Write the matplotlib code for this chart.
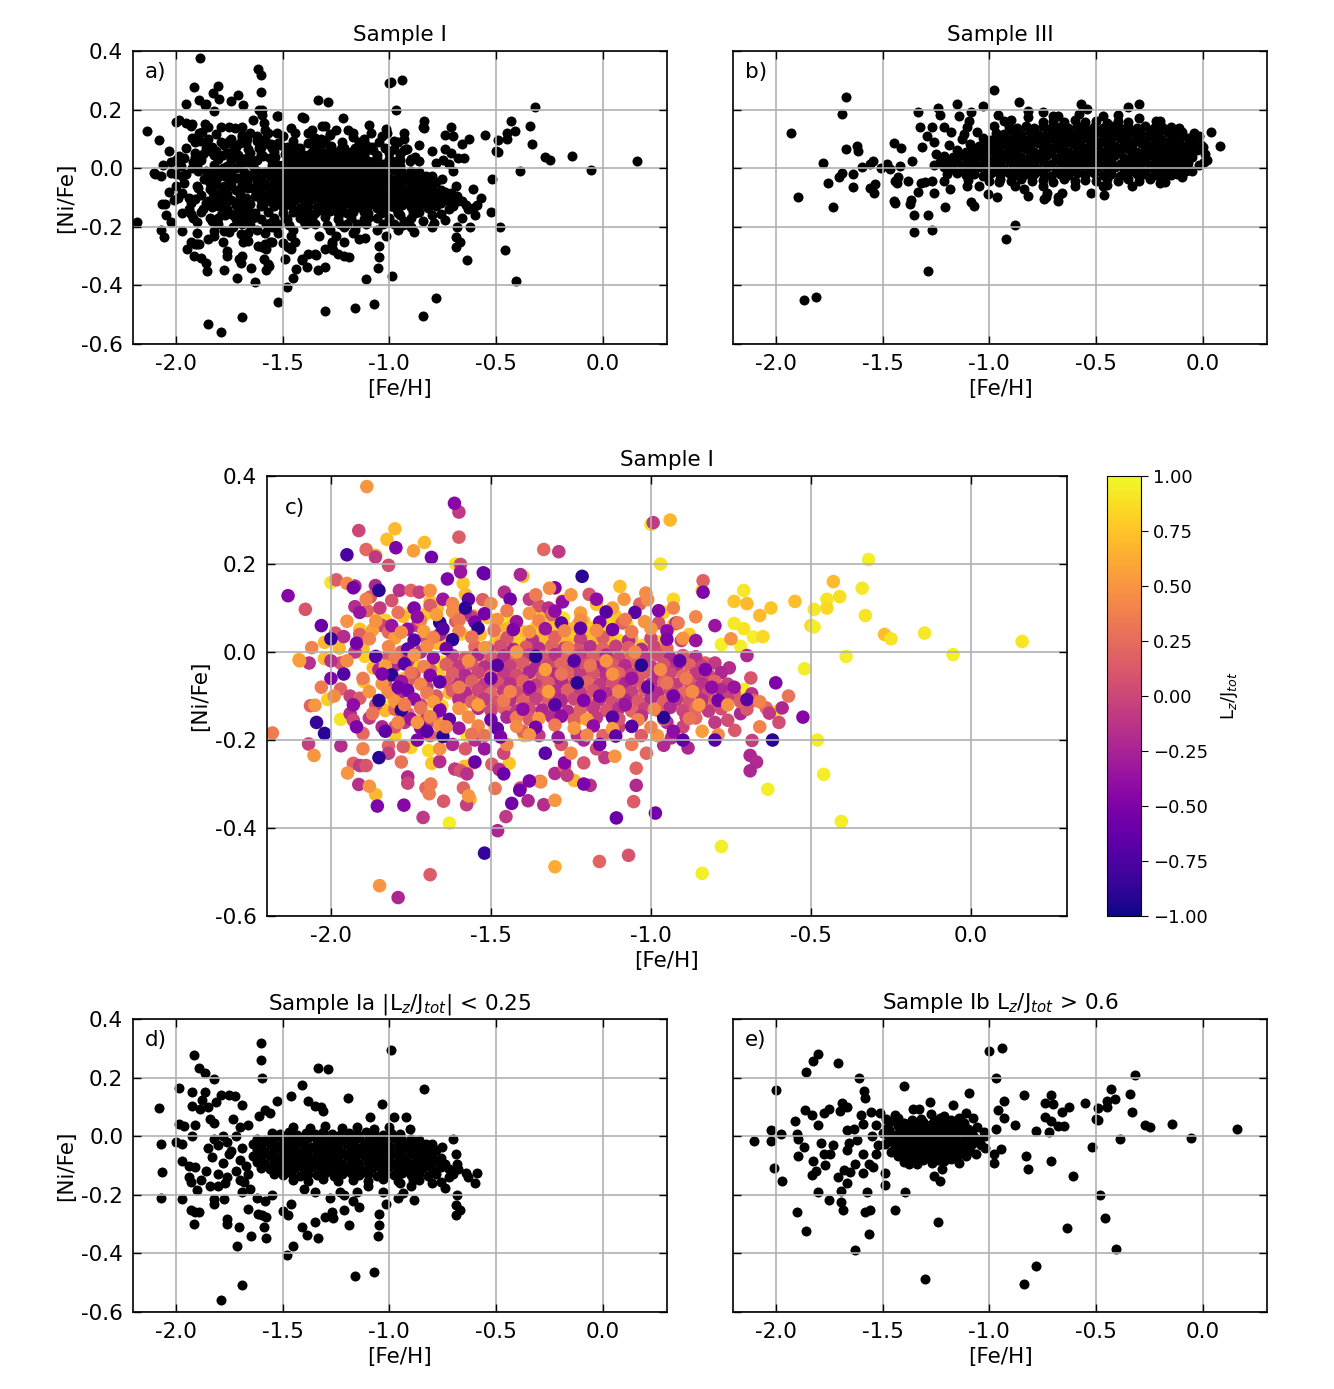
import numpy as np
import matplotlib
matplotlib.use("Agg")
import matplotlib.pyplot as plt
from matplotlib.ticker import FuncFormatter, MultipleLocator

# ---- Sample I, part with Lz/Jtot > 0.6 (panel e): ([Fe/H], [Ni/Fe], Lz/Jtot)
e_out = [
    (-1.00, 0.29, 0.92), (-0.94, 0.30, 0.68), (-0.97, 0.20, 0.90), (-0.32, 0.21, 0.95),
    (-0.84, 0.14, 0.85), (-0.71, 0.14, 0.92), (-0.43, 0.16, 0.70), (-0.34, 0.145, 0.92),
    (-0.41, 0.126, 0.88), (-0.45, 0.12, 0.90), (-0.45, 0.10, 0.85), (-0.93, 0.12, 0.85),
    (-0.74, 0.115, 0.75), (-0.70, 0.11, 0.70), (-0.55, 0.115, 0.72), (-0.625, 0.10, 0.75),
    (-0.49, 0.097, 0.92), (-0.66, 0.083, 0.70), (-0.33, 0.083, 0.90), (-0.96, 0.09, 0.80),
    (-0.93, 0.062, 0.78), (-0.74, 0.065, 0.92), (-0.71, 0.053, 0.90), (-0.50, 0.06, 0.85),
    (-0.49, 0.057, 0.95), (-0.88, 0.04, 0.78), (-0.68, 0.034, 0.95), (-0.65, 0.035, 0.85),
    (-0.97, 0.024, 0.80), (-0.78, 0.017, 0.96), (-0.72, 0.013, 0.95), (-0.27, 0.04, 0.72),
    (-0.25, 0.03, 0.90), (-0.145, 0.043, 0.92), (0.16, 0.024, 0.90), (-0.056, -0.006, 0.96),
    (-0.39, -0.01, 0.95), (-0.52, -0.038, 0.95), (-0.83, -0.067, 0.90), (-0.82, -0.11, 0.75),
    (-0.71, -0.085, 0.95), (-0.61, -0.135, 0.90), (-0.48, -0.20, 0.95), (-0.46, -0.278, 0.95),
    (-0.635, -0.312, 0.95), (-0.405, -0.385, 0.95), (-0.78, -0.442, 0.95), (-0.84, -0.503, 0.95),
    (-1.30, -0.488, 0.62), (-1.24, -0.292, 0.70), (-1.63, -0.389, 0.95), (-1.565, -0.335, 0.70),
    (-1.86, -0.324, 0.70), (-1.90, -0.258, 0.75), (-1.75, -0.217, 0.80), (-1.695, -0.224, 0.85),
    (-1.685, -0.253, 0.75), (-1.583, -0.26, 0.72), (-1.557, -0.253, 0.70), (-1.443, -0.253, 0.75),
    (-1.80, -0.19, 0.80), (-1.696, -0.188, 0.70), (-1.575, -0.19, 0.90), (-1.396, -0.19, 0.70),
    (-1.97, -0.153, 0.90), (-2.01, -0.108, 0.80), (-2.10, -0.017, 0.65), (-2.02, -0.015, 0.70),
    (-2.02, 0.022, 0.68), (-1.974, 0.009, 0.70), (-1.91, 0.052, 0.75), (-1.865, 0.09, 0.90),
    (-1.90, 0.007, 0.70), (-1.894, -0.01, 0.80), (-1.868, -0.036, 0.70), (-1.898, -0.067, 0.75),
    (-1.826, -0.083, 0.70), (-1.81, -0.12, 0.95), (-1.83, -0.133, 0.70), (-1.77, -0.099, 0.80),
    (-1.71, -0.14, 0.70), (-1.68, -0.116, 0.90), (-1.665, -0.16, 0.70), (-1.49, -0.168, 0.75),
    (-1.49, -0.124, 0.70), (-1.377, -0.095, 0.80), (-1.259, -0.135, 0.90), (-1.23, -0.153, 0.70),
    (-1.22, -0.113, 0.75), (-1.278, 0.116, 0.70), (-1.17, 0.108, 0.75), (-1.075, 0.063, 0.90),
    (-1.026, 0.015, 0.85), (-1.019, -0.039, 0.70), (-1.047, -0.014, 0.80), (-1.063, -0.06, 0.70),
    (-0.946, -0.045, 0.75), (-0.977, -0.061, 0.70), (-0.977, -0.09, 0.80), (-1.69, 0.115, 0.75),
    (-1.667, 0.101, 0.70), (-1.75, 0.092, 0.90), (-1.774, 0.081, 0.70), (-1.83, 0.072, 0.80),
    (-1.80, 0.038, 0.70), (-1.70, 0.088, 0.75), (-1.60, 0.072, 0.85), (-1.552, 0.082, 0.70),
    (-1.51, 0.078, 0.75), (-1.44, 0.073, 0.90), (-1.484, 0.058, 0.70), (-1.592, 0.041, 0.80),
    (-1.668, 0.02, 0.70), (-1.634, 0.026, 0.75), (-1.533, 0.04, 0.70), (-1.358, 0.093, 0.80),
    (-1.33, 0.092, 0.70), (-1.318, 0.06, 0.75), (-1.273, 0.077, 0.90), (-1.21, 0.07, 0.70),
    (-1.18, 0.055, 0.80), (-1.137, 0.06, 0.70), (-1.11, 0.081, 0.75), (-1.786, -0.022, 0.70),
    (-1.734, -0.031, 0.80), (-1.774, -0.061, 0.75), (-1.745, -0.061, 0.70), (-1.656, -0.023, 0.90),
    (-1.618, -0.011, 0.70), (-1.665, -0.048, 0.75), (-1.63, -0.093, 0.70), (-1.592, -0.061, 0.80),
    (-1.564, -0.093, 0.70), (-1.543, -0.105, 0.75), (-1.592, -0.127, 0.70), (-1.653, -0.122, 0.85),
    (-1.80, 0.28, 0.70), (-1.825, 0.256, 0.72), (-1.708, 0.249, 0.70), (-1.86, 0.22, 0.75),
    (-1.61, 0.20, 0.90), (-2.00, 0.158, 0.90), (-1.40, 0.172, 0.70), (-1.587, 0.156, 0.75),
    (-1.58, 0.131, 0.70), (-1.097, 0.149, 0.72),
]
e_core = [
    (-1.45, 0.052, 0.65), (-1.40, 0.046, 0.70), (-1.36, 0.055, 0.75), (-1.31, 0.048, 0.80),
    (-1.26, 0.053, 0.68), (-1.21, 0.045, 0.72), (-1.16, 0.050, 0.85), (-1.12, 0.044, 0.62),
    (-1.48, 0.028, 0.78), (-1.43, 0.034, 0.90), (-1.38, 0.026, 0.65), (-1.34, 0.032, 0.70),
    (-1.29, 0.027, 0.75), (-1.25, 0.035, 0.80), (-1.20, 0.029, 0.68), (-1.15, 0.033, 0.72),
    (-1.10, 0.026, 0.85), (-1.06, 0.031, 0.62), (-1.50, 0.012, 0.78), (-1.45, 0.006, 0.90),
    (-1.40, 0.014, 0.65), (-1.36, 0.008, 0.70), (-1.32, 0.013, 0.75), (-1.27, 0.005, 0.80),
    (-1.22, 0.011, 0.68), (-1.18, 0.007, 0.72), (-1.13, 0.014, 0.85), (-1.08, 0.009, 0.62),
    (-1.47, -0.008, 0.78), (-1.42, -0.013, 0.90), (-1.38, -0.006, 0.65), (-1.33, -0.012, 0.70),
    (-1.29, -0.009, 0.75), (-1.24, -0.014, 0.80), (-1.19, -0.007, 0.68), (-1.15, -0.011, 0.72),
    (-1.10, -0.006, 0.85), (-1.05, -0.013, 0.62), (-1.49, -0.028, 0.78), (-1.44, -0.033, 0.90),
    (-1.39, -0.027, 0.65), (-1.35, -0.034, 0.70), (-1.30, -0.029, 0.75), (-1.26, -0.032, 0.80),
    (-1.21, -0.026, 0.68), (-1.17, -0.035, 0.72), (-1.12, -0.030, 0.85), (-1.08, -0.027, 0.62),
    (-1.46, -0.052, 0.78), (-1.41, -0.047, 0.90), (-1.37, -0.055, 0.65), (-1.32, -0.049, 0.70),
    (-1.28, -0.053, 0.75), (-1.23, -0.046, 0.80), (-1.18, -0.054, 0.68), (-1.14, -0.048, 0.72),
    (-1.09, -0.051, 0.85), (-1.43, -0.068, 0.62), (-1.38, -0.074, 0.78), (-1.33, -0.067, 0.90),
    (-1.29, -0.072, 0.65), (-1.25, -0.069, 0.70), (-1.20, -0.075, 0.75), (-1.15, -0.070, 0.80),
    (-1.11, -0.066, 0.68), (-1.40, -0.088, 0.72), (-1.34, -0.094, 0.85), (-1.27, -0.090, 0.62),
    (-1.21, -0.086, 0.78), (-1.14, -0.092, 0.90),
    (-1.43, 0.062, 0.70), (-1.38, 0.040, 0.75), (-1.33, 0.044, 0.68), (-1.28, 0.040, 0.80),
    (-1.23, 0.061, 0.65), (-1.18, 0.040, 0.72), (-1.14, 0.063, 0.85), (-1.47, 0.020, 0.62),
    (-1.42, 0.021, 0.78), (-1.37, 0.018, 0.70), (-1.31, 0.020, 0.75), (-1.26, 0.018, 0.68),
    (-1.21, 0.021, 0.80), (-1.17, 0.020, 0.65), (-1.12, 0.019, 0.72), (-1.44, 0.000, 0.85),
    (-1.39, 0.001, 0.62), (-1.34, -0.002, 0.78), (-1.30, 0.000, 0.70), (-1.25, 0.001, 0.75),
    (-1.20, -0.002, 0.68), (-1.16, 0.000, 0.80), (-1.11, 0.001, 0.65), (-1.07, -0.002, 0.72),
    (-1.45, -0.020, 0.85), (-1.41, -0.021, 0.62), (-1.36, -0.022, 0.78), (-1.31, -0.020, 0.70),
    (-1.27, -0.019, 0.75), (-1.22, -0.021, 0.68), (-1.18, -0.022, 0.80), (-1.13, -0.020, 0.65),
    (-1.44, -0.040, 0.72), (-1.39, -0.041, 0.85), (-1.34, -0.042, 0.62), (-1.30, -0.040, 0.78),
    (-1.25, -0.039, 0.70), (-1.20, -0.042, 0.75), (-1.16, -0.040, 0.68), (-1.11, -0.041, 0.80),
    (-1.40, -0.060, 0.65), (-1.35, -0.061, 0.72), (-1.30, -0.062, 0.85), (-1.26, -0.060, 0.62),
    (-1.22, -0.059, 0.78), (-1.17, -0.062, 0.70), (-1.36, -0.080, 0.75), (-1.31, -0.081, 0.68),
    (-1.24, -0.080, 0.80), (-1.18, -0.079, 0.65), (-1.52, -0.030, 0.72), (-1.53, -0.060, 0.85),
    (-1.55, 0.000, 0.62), (-1.02, 0.000, 0.78), (-1.04, -0.030, 0.70),
]

# ---- Sample I, part with |Lz/Jtot| < 0.25 (panel d)
d_out = [
    (-2.08, 0.097, 0.10), (-2.068, -0.025, -0.15), (-2.064, -0.122, 0.20), (-2.07, -0.209, -0.05),
    (-1.983, 0.164, 0.15), (-1.925, 0.15, -0.20), (-1.913, 0.276, 0.00), (-1.89, 0.233, 0.22),
    (-1.861, 0.216, -0.10), (-1.82, 0.197, 0.05), (-1.861, 0.151, -0.22), (-1.877, 0.125, 0.12),
    (-1.925, 0.103, -0.18), (-1.887, 0.094, 0.18), (-1.847, 0.10, -0.08), (-1.81, 0.117, 0.10),
    (-1.786, 0.14, -0.15), (-1.75, 0.14, 0.20), (-1.724, 0.136, -0.05), (-1.69, 0.106, 0.15),
    (-1.60, 0.318, -0.10), (-1.60, 0.261, 0.15), (-1.595, 0.199, 0.00), (-1.335, 0.233, 0.22),
    (-1.288, 0.228, -0.10), (-1.408, 0.176, -0.22), (-0.993, 0.294, -0.08), (-0.837, 0.162, 0.18),
    (-1.193, 0.131, 0.12), (-1.035, 0.109, 0.20), (-1.458, 0.136, -0.18), (-1.526, 0.119, 0.18),
    (-1.38, 0.12, -0.08), (-1.35, 0.105, 0.10), (-1.32, 0.10, -0.15), (-1.31, 0.085, 0.20),
    (-1.56, 0.08, -0.05), (-1.61, 0.07, 0.15), (-1.58, 0.09, -0.20), (-1.84, 0.06, 0.00),
    (-1.82, 0.045, 0.22), (-1.73, 0.06, -0.10), (-1.70, 0.03, 0.05), (-1.66, 0.04, -0.22),
    (-1.986, 0.043, 0.12), (-1.96, 0.035, -0.18), (-1.91, 0.04, 0.18), (-1.925, 0.0, -0.08),
    (-1.97, -0.025, 0.10), (-2.0, -0.02, -0.15), (-1.97, -0.084, 0.20), (-1.94, -0.10, -0.05),
    (-1.91, -0.105, 0.15), (-1.94, -0.14, -0.20), (-1.93, -0.155, 0.00), (-1.90, -0.185, 0.22),
    (-1.88, -0.15, -0.10), (-1.86, -0.12, 0.05), (-1.84, -0.17, -0.22), (-1.80, -0.17, 0.12),
    (-1.969, -0.213, -0.18), (-1.93, -0.253, 0.18), (-1.91, -0.258, -0.08), (-1.89, -0.258, 0.10),
    (-1.913, -0.301, -0.15), (-1.82, -0.213, 0.20), (-1.82, -0.23, -0.05), (-1.774, -0.215, 0.15),
    (-1.76, -0.284, -0.20), (-1.76, -0.298, 0.00), (-1.703, -0.309, 0.22), (-1.712, -0.376, -0.10),
    (-1.69, -0.506, 0.15), (-1.79, -0.558, -0.22), (-1.648, -0.339, 0.12), (-1.66, -0.249, -0.18),
    (-1.69, -0.19, 0.18), (-1.613, -0.266, -0.08), (-1.595, -0.27, 0.10), (-1.575, -0.277, -0.15),
    (-1.586, -0.309, 0.20), (-1.576, -0.347, -0.05), (-1.497, -0.255, 0.15), (-1.474, -0.267, -0.20),
    (-1.46, -0.23, 0.00), (-1.479, -0.406, -0.22), (-1.453, -0.374, -0.10), (-1.408, -0.309, 0.05),
    (-1.384, -0.338, -0.22), (-1.335, -0.347, -0.18), (-1.347, -0.294, 0.12), (-1.30, -0.276, -0.18),
    (-1.27, -0.26, 0.18), (-1.262, -0.28, -0.08), (-1.21, -0.252, 0.10), (-1.19, -0.303, -0.15),
    (-1.161, -0.476, 0.20), (-1.07, -0.462, 0.10), (-1.054, -0.34, 0.15), (-1.046, -0.303, -0.20),
    (-1.046, -0.264, 0.20), (-1.014, -0.23, 0.22), (-1.144, -0.24, -0.10), (-1.17, -0.22, 0.05),
    (-1.21, -0.20, -0.22), (-0.96, -0.212, -0.20), (-0.936, -0.195, -0.18), (-0.884, -0.218, -0.22),
    (-0.70, -0.008, -0.22), (-0.688, -0.059, 0.10), (-0.685, -0.095, -0.15), (-0.68, -0.11, 0.20),
    (-0.684, -0.201, -0.05), (-0.69, -0.235, -0.22), (-0.67, -0.25, -0.20), (-0.69, -0.27, -0.22),
    (-0.64, -0.127, 0.22), (-0.63, -0.139, -0.10), (-0.60, -0.16, 0.05), (-0.59, -0.127, -0.22),
    (-0.738, -0.178, 0.12), (-0.755, -0.036, -0.18), (-0.83, -0.025, 0.18), (-0.80, -0.025, -0.08),
    (-0.976, 0.066, 0.10), (-0.922, 0.066, -0.15), (-1.09, 0.066, 0.20), (-0.905, 0.026, -0.05),
    (-1.75, -0.06, 0.15), (-1.78, -0.09, -0.20), (-1.72, -0.12, 0.00), (-1.76, -0.14, 0.22),
    (-1.70, -0.15, -0.10), (-1.65, -0.18, 0.05), (-1.62, -0.21, -0.22), (-1.58, -0.22, 0.12),
    (-1.55, -0.20, -0.18), (-1.40, -0.18, 0.18), (-1.35, -0.19, -0.08), (-1.28, -0.21, 0.10),
    (-1.23, -0.19, -0.15), (-1.15, -0.19, 0.20), (-1.10, -0.17, -0.05), (-1.03, -0.19, 0.15),
    (-0.95, -0.16, -0.20), (-0.90, -0.17, 0.00), (-0.86, -0.15, 0.22), (-0.80, -0.16, -0.10),
    (-0.76, -0.155, 0.05), (-0.72, -0.14, -0.22), (-0.70, -0.13, 0.12),
    (-1.80, -0.03, -0.18), (-1.78, 0.0, 0.18), (-1.76, -0.02, -0.08), (-1.74, -0.05, 0.10),
    (-1.72, 0.0, -0.15), (-1.69, -0.04, 0.20), (-1.70, -0.08, -0.05), (-1.67, -0.10, 0.15),
    (-1.66, -0.13, -0.20), (-1.68, -0.155, 0.00), (-1.80, -0.13, 0.22), (-1.77, -0.16, -0.10),
    (-1.83, -0.07, 0.05), (-1.85, -0.04, -0.22), (-1.82, -0.01, 0.12),
]
d_core = [
    (-1.45, 0.032, 0.10), (-1.37, 0.027, -0.15), (-1.30, 0.034, 0.20), (-1.22, 0.029, -0.05),
    (-1.15, 0.033, 0.15), (-1.07, 0.026, -0.20), (-1.00, 0.031, 0.00),
    (-1.55, 0.012, 0.22), (-1.51, 0.007, -0.10), (-1.47, 0.013, 0.05), (-1.43, 0.006, -0.22),
    (-1.39, 0.011, 0.12), (-1.35, 0.008, -0.18), (-1.31, 0.014, 0.18), (-1.27, 0.009, -0.08),
    (-1.23, 0.005, 0.10), (-1.19, 0.012, -0.15), (-1.15, 0.007, 0.20), (-1.11, 0.013, -0.05),
    (-1.07, 0.010, 0.15), (-1.03, 0.006, -0.20), (-0.99, 0.012, 0.00), (-0.95, 0.008, 0.22),
    (-1.62, -0.008, -0.10), (-1.58, -0.013, 0.05), (-1.54, -0.006, -0.22), (-1.50, -0.012, 0.12),
    (-1.46, -0.009, -0.18), (-1.42, -0.014, 0.18), (-1.38, -0.007, -0.08), (-1.34, -0.011, 0.10),
    (-1.30, -0.006, -0.15), (-1.26, -0.013, 0.20), (-1.22, -0.008, -0.05), (-1.18, -0.012, 0.15),
    (-1.14, -0.007, -0.20), (-1.10, -0.014, 0.00), (-1.06, -0.009, 0.22), (-1.02, -0.012, -0.10),
    (-0.98, -0.006, 0.05), (-0.94, -0.013, -0.22), (-0.90, -0.008, 0.12), (-0.86, -0.011, -0.18),
    (-1.64, -0.028, 0.18), (-1.60, -0.033, -0.08), (-1.56, -0.027, 0.10), (-1.52, -0.034, -0.15),
    (-1.48, -0.029, 0.20), (-1.44, -0.032, -0.05), (-1.40, -0.026, 0.15), (-1.36, -0.035, -0.20),
    (-1.32, -0.030, 0.00), (-1.28, -0.027, 0.22), (-1.24, -0.033, -0.10), (-1.20, -0.028, 0.05),
    (-1.16, -0.034, -0.22), (-1.12, -0.029, 0.12), (-1.08, -0.031, -0.18), (-1.04, -0.026, 0.18),
    (-1.00, -0.033, -0.08), (-0.96, -0.028, 0.10), (-0.92, -0.034, -0.15), (-0.88, -0.029, 0.20),
    (-0.84, -0.032, -0.05),
    (-1.62, -0.048, 0.15), (-1.58, -0.053, -0.20), (-1.54, -0.047, 0.00), (-1.50, -0.054, 0.22),
    (-1.46, -0.049, -0.10), (-1.42, -0.052, 0.05), (-1.38, -0.046, -0.22), (-1.34, -0.055, 0.12),
    (-1.30, -0.050, -0.18), (-1.26, -0.047, 0.18), (-1.22, -0.053, -0.08), (-1.18, -0.048, 0.10),
    (-1.14, -0.054, -0.15), (-1.10, -0.049, 0.20), (-1.06, -0.051, -0.05), (-1.02, -0.046, 0.15),
    (-0.98, -0.053, -0.20), (-0.94, -0.048, 0.00), (-0.90, -0.054, 0.22), (-0.86, -0.049, -0.10),
    (-0.82, -0.052, 0.05), (-0.78, -0.047, -0.22),
    (-1.64, -0.068, 0.12), (-1.60, -0.073, -0.18), (-1.56, -0.067, 0.18), (-1.52, -0.074, -0.08),
    (-1.48, -0.069, 0.10), (-1.44, -0.072, -0.15), (-1.40, -0.066, 0.20), (-1.36, -0.075, -0.05),
    (-1.32, -0.070, 0.15), (-1.28, -0.067, -0.20), (-1.24, -0.073, 0.00), (-1.20, -0.068, 0.22),
    (-1.16, -0.074, -0.10), (-1.12, -0.069, 0.05), (-1.08, -0.071, -0.22), (-1.04, -0.066, 0.12),
    (-1.00, -0.073, -0.18), (-0.96, -0.068, 0.18), (-0.92, -0.074, -0.08), (-0.88, -0.069, 0.10),
    (-0.84, -0.072, -0.15), (-0.80, -0.067, 0.20), (-0.76, -0.073, -0.05),
    (-1.62, -0.088, 0.15), (-1.58, -0.093, -0.20), (-1.54, -0.087, 0.00), (-1.50, -0.094, 0.22),
    (-1.46, -0.089, -0.10), (-1.42, -0.092, 0.05), (-1.38, -0.086, -0.22), (-1.34, -0.095, 0.12),
    (-1.30, -0.090, -0.18), (-1.26, -0.087, 0.18), (-1.22, -0.093, -0.08), (-1.18, -0.088, 0.10),
    (-1.14, -0.094, -0.15), (-1.10, -0.089, 0.20), (-1.06, -0.091, -0.05), (-1.02, -0.086, 0.15),
    (-0.98, -0.093, -0.20), (-0.94, -0.088, 0.00), (-0.90, -0.094, 0.22), (-0.86, -0.089, -0.10),
    (-0.82, -0.092, 0.05), (-0.78, -0.086, -0.22), (-0.74, -0.093, 0.12),
    (-1.60, -0.108, -0.18), (-1.56, -0.113, 0.18), (-1.52, -0.107, -0.08), (-1.48, -0.114, 0.10),
    (-1.44, -0.109, -0.15), (-1.40, -0.112, 0.20), (-1.36, -0.106, -0.05), (-1.32, -0.115, 0.15),
    (-1.28, -0.110, -0.20), (-1.24, -0.107, 0.00), (-1.20, -0.113, 0.22), (-1.16, -0.108, -0.10),
    (-1.12, -0.114, 0.05), (-1.08, -0.109, -0.22), (-1.04, -0.111, 0.12), (-1.00, -0.106, -0.18),
    (-0.96, -0.113, 0.18), (-0.92, -0.108, -0.08), (-0.88, -0.114, 0.10), (-0.84, -0.109, -0.15),
    (-0.80, -0.112, 0.20), (-0.76, -0.106, -0.05), (-0.72, -0.113, 0.15),
    (-1.54, -0.128, -0.20), (-1.50, -0.133, 0.00), (-1.46, -0.127, 0.22), (-1.42, -0.134, -0.10),
    (-1.38, -0.129, 0.05), (-1.34, -0.132, -0.22), (-1.30, -0.126, 0.12), (-1.26, -0.135, -0.18),
    (-1.22, -0.130, 0.18), (-1.18, -0.127, -0.08), (-1.14, -0.133, 0.10), (-1.10, -0.128, -0.15),
    (-1.06, -0.134, 0.20), (-1.02, -0.129, -0.05), (-0.98, -0.132, 0.15), (-0.94, -0.126, -0.20),
    (-0.90, -0.133, 0.00), (-0.86, -0.128, 0.22), (-0.82, -0.134, -0.10), (-0.78, -0.129, 0.05),
    (-1.45, -0.148, -0.22), (-1.38, -0.153, 0.12), (-1.31, -0.147, -0.18), (-1.24, -0.154, 0.18),
    (-1.17, -0.149, -0.08), (-1.10, -0.152, 0.10), (-1.03, -0.146, -0.15), (-0.96, -0.153, 0.20),
    (-0.89, -0.148, -0.05),
]

# ---- Sample I, the remaining stars (0.25 < Lz/Jtot < 0.6 or Lz/Jtot < -0.25)
o_out = [
    (-1.888, 0.376, 0.50), (-1.614, 0.338, -0.45), (-2.183, -0.184, 0.35), (-2.134, 0.128, -0.45),
    (-2.098, -0.02, 0.55), (-2.053, -0.235, 0.50), (-2.045, -0.16, -0.85), (-2.02, -0.185, -0.90),
    (-2.05, -0.121, 0.50), (-1.848, -0.531, 0.50), (-1.52, -0.457, -0.85),
    (-0.986, -0.366, -0.55), (-1.108, -0.377, -0.60), (-1.855, -0.35, -0.50), (-1.772, -0.348, -0.45),
    (-1.948, -0.275, 0.50), (-1.88, -0.305, 0.50), (-1.95, 0.221, -0.75), (-1.797, 0.237, -0.50),
    (-1.686, 0.215, -0.55), (-1.215, 0.172, -0.90), (-1.52, 0.178, -0.60), (-1.636, 0.166, -0.50),
    (-1.595, 0.182, -0.35), (-1.742, 0.23, 0.55), (-1.95, 0.156, 0.45), (-1.93, 0.146, -0.55),
    (-1.30, 0.146, -0.50), (-1.01, 0.119, 0.45), (-1.084, 0.12, 0.50), (-0.525, -0.148, -0.45),
    (-0.79, -0.188, 0.45), (-1.113, -0.237, 0.50), (-1.21, -0.30, -0.50), (-1.27, -0.252, -0.45),
    (-1.30, -0.337, 0.50), (-1.344, -0.295, 0.45), (-1.38, -0.293, -0.50), (-1.41, -0.314, -0.55),
    (-1.435, -0.344, -0.55), (-1.46, -0.277, -0.60), (-1.487, -0.31, 0.30), (-1.55, -0.25, -0.60),
    (-1.57, -0.327, 0.50), (-1.688, -0.30, 0.35), (-1.693, -0.322, 0.35), (-1.524, 0.18, -0.60),
    (-1.317, 0.145, 0.45), (-1.276, 0.114, -0.40), (-1.016, 0.134, 0.45), (-0.837, 0.136, -0.50),
    (-0.93, 0.10, 0.40), (-0.976, 0.094, -0.45), (-0.915, 0.066, 0.35), (-2.03, 0.06, -0.60),
    (-2.06, 0.01, 0.40), (-2.00, -0.06, -0.50), (-1.99, -0.10, 0.45), (-2.03, -0.08, 0.35),
    (-2.00, 0.03, -0.85), (-1.96, -0.05, -0.70),
    (-1.89, 0.12, 0.40), (-1.85, 0.14, -0.90), (-1.79, 0.09, 0.30), (-1.74, 0.10, -0.50),
    (-1.69, 0.14, 0.48), (-1.65, 0.12, -0.35), (-1.62, 0.11, 0.42), (-1.57, 0.12, -0.65),
    (-1.50, 0.11, 0.45), (-1.44, 0.12, -0.55), (-1.36, 0.13, 0.35), (-1.25, 0.13, 0.50),
    (-1.17, 0.12, -0.40), (-1.12, 0.10, 0.55), (-1.05, 0.09, -0.70), (-1.90, -0.22, 0.40),
    (-1.85, -0.24, -0.90), (-1.78, -0.25, 0.30), (-1.73, -0.20, -0.50), (-1.66, -0.22, 0.48),
    (-1.52, -0.22, -0.35), (-1.45, -0.21, 0.42), (-1.33, -0.23, -0.65), (-1.25, -0.23, 0.45),
    (-1.16, -0.21, -0.55), (-1.06, -0.21, 0.35), (-0.98, -0.19, 0.50), (-0.93, -0.18, -0.40),
    (-0.84, -0.18, 0.55), (-0.80, -0.20, -0.70), (-0.66, -0.17, 0.40), (-0.62, -0.20, -0.90),
    (-0.57, -0.10, 0.30), (-0.61, -0.07, -0.50), (-0.75, 0.03, 0.48), (-0.80, 0.06, -0.35),
    (-0.86, 0.08, 0.42), (-0.90, -0.20, -0.65),
]
o_core = [
    (-1.62, 0.092, 0.45), (-1.52, 0.087, -0.55), (-1.45, 0.094, 0.35), (-1.38, 0.088, 0.50),
    (-1.30, 0.093, -0.40), (-1.22, 0.089, 0.55), (-1.14, 0.091, -0.70),
    (-1.72, 0.072, 0.40), (-1.66, 0.067, -0.90), (-1.60, 0.073, 0.30), (-1.55, 0.068, -0.50),
    (-1.48, 0.074, 0.48), (-1.42, 0.069, -0.35), (-1.35, 0.071, 0.42), (-1.28, 0.066, -0.65),
    (-1.22, 0.073, 0.45), (-1.16, 0.068, -0.55), (-1.08, 0.074, 0.35), (-1.02, 0.069, 0.50),
    (-1.76, 0.052, -0.40), (-1.71, 0.047, 0.55), (-1.65, 0.053, -0.70), (-1.60, 0.048, 0.40),
    (-1.54, 0.054, -0.90), (-1.49, 0.049, 0.30), (-1.43, 0.051, -0.50), (-1.38, 0.046, 0.48),
    (-1.33, 0.053, -0.35), (-1.27, 0.048, 0.42), (-1.22, 0.054, -0.65), (-1.17, 0.049, 0.45),
    (-1.12, 0.051, -0.55), (-1.06, 0.046, 0.35), (-1.00, 0.053, 0.50), (-0.95, 0.048, -0.40),
    (-1.80, 0.032, 0.55), (-1.74, 0.027, -0.70), (-1.68, 0.033, 0.40), (-1.62, 0.028, -0.90),
    (-1.56, 0.034, 0.30), (-0.95, 0.029, -0.50), (-0.90, 0.031, 0.48), (-0.86, 0.026, -0.35),
    (-1.82, 0.012, 0.42), (-1.76, 0.007, -0.65), (-1.70, 0.013, 0.45), (-1.64, 0.008, -0.55),
    (-1.80, -0.012, 0.35), (-1.74, -0.007, 0.50), (-1.68, -0.013, -0.40), (-1.83, -0.032, 0.55),
    (-1.77, -0.027, -0.70), (-1.71, -0.033, 0.40), (-1.81, -0.052, -0.90), (-1.75, -0.047, 0.30),
    (-1.69, -0.053, -0.50), (-1.84, -0.072, 0.48), (-1.78, -0.067, -0.35), (-1.72, -0.073, 0.42),
    (-1.66, -0.068, -0.65), (-1.82, -0.092, 0.45), (-1.76, -0.087, -0.55), (-1.70, -0.093, 0.35),
    (-1.80, -0.112, 0.50), (-1.74, -0.107, -0.40), (-1.68, -0.113, 0.55), (-0.70, -0.108, -0.70),
    (-0.66, -0.113, 0.40), (-1.78, -0.132, -0.90), (-1.72, -0.127, 0.30), (-1.66, -0.133, -0.50),
    (-1.60, -0.128, 0.48),
    (-1.75, -0.152, -0.35), (-1.69, -0.147, 0.42), (-1.63, -0.153, -0.65), (-1.57, -0.148, 0.45),
    (-1.50, -0.154, -0.55), (-1.42, -0.149, 0.35), (-1.35, -0.151, 0.50), (-1.28, -0.146, -0.40),
    (-1.20, -0.153, 0.55), (-1.12, -0.148, -0.70), (-1.04, -0.154, 0.40), (-0.96, -0.149, -0.90),
    (-0.88, -0.151, 0.30),
    (-1.72, -0.172, -0.50), (-1.66, -0.167, 0.48), (-1.60, -0.173, -0.35), (-1.54, -0.168, 0.42),
    (-1.48, -0.174, -0.65), (-1.42, -0.169, 0.45), (-1.36, -0.171, -0.55), (-1.30, -0.166, 0.35),
    (-1.24, -0.173, 0.50), (-1.18, -0.168, -0.40), (-1.12, -0.174, 0.55), (-1.06, -0.169, -0.70),
    (-1.00, -0.171, 0.40),
    (-1.65, -0.192, -0.90), (-1.56, -0.187, 0.30), (-1.47, -0.193, -0.50), (-1.38, -0.188, 0.48),
    (-1.29, -0.194, -0.35), (-1.20, -0.189, 0.42), (-1.11, -0.191, -0.65),
    (-1.57, -0.02, 0.45), (-1.50, -0.06, -0.55), (-1.46, -0.11, 0.35), (-1.42, 0.00, 0.50),
    (-1.38, -0.08, -0.40), (-1.33, -0.04, 0.55), (-1.30, -0.12, -0.70), (-1.26, 0.01, 0.40),
    (-1.23, -0.07, -0.90), (-1.19, -0.03, 0.30), (-1.16, -0.10, -0.50), (-1.12, -0.05, 0.48),
    (-1.08, -0.12, -0.35), (-1.05, 0.00, 0.42), (-1.01, -0.08, -0.65), (-0.97, -0.04, 0.45),
    (-0.93, -0.10, -0.55), (-0.89, -0.06, 0.35), (-0.85, -0.12, 0.50), (-0.81, -0.08, -0.40),
    (-1.54, -0.12, 0.55), (-1.48, -0.03, -0.70), (-1.44, -0.09, 0.40), (-1.36, -0.01, -0.90),
    (-1.28, -0.05, 0.30), (-1.21, -0.11, -0.50), (-1.14, -0.02, 0.48), (-1.06, -0.06, -0.35),
    (-0.99, -0.13, 0.42), (-0.91, -0.02, -0.65), (-0.87, -0.09, 0.45), (-0.79, -0.11, -0.55),
    (-1.60, -0.08, 0.35), (-1.52, 0.01, 0.50), (-1.40, -0.13, -0.40), (-1.32, -0.09, 0.55),
    (-1.24, -0.02, -0.70), (-1.10, -0.09, 0.40), (-1.03, -0.03, -0.90), (-0.95, -0.07, 0.30),
    (-0.83, -0.04, -0.50), (-0.76, -0.12, 0.48), (-0.74, -0.08, -0.35),
    (-1.95, -0.02, 0.45), (-1.92, 0.02, -0.55), (-1.90, -0.06, 0.35), (-1.88, -0.09, 0.50),
    (-1.93, -0.12, -0.40), (-1.87, 0.05, 0.55), (-1.86, -0.01, -0.70), (-1.88, 0.03, 0.40),
    (-1.85, -0.11, -0.90), (-1.87, -0.14, 0.30), (-1.84, -0.05, -0.50), (-1.86, 0.07, 0.48),
    (-1.81, 0.06, -0.35), (-1.79, -0.16, 0.42), (-1.83, -0.18, -0.65), (-1.78, 0.045, 0.45),
    (-1.79, -0.08, -0.55), (-1.77, -0.12, 0.35), (-1.73, -0.16, 0.50), (-1.73, 0.08, -0.40),
    (-1.67, 0.085, 0.55), (-1.70, -0.18, -0.70), (-1.64, -0.17, 0.40), (-1.58, 0.10, -0.90),
    (-1.52, -0.19, 0.30), (-1.92, -0.17, -0.50), (-1.95, 0.07, 0.48), (-1.91, 0.09, -0.35),
]

# ---- Sample III: ([Fe/H], [Ni/Fe])
iii_out = [
    (-1.93, 0.12), (-1.673, 0.245), (-1.688, 0.185), (-1.673, 0.066), (-1.62, 0.076), (-1.616, 0.058),
    (-1.777, 0.018), (-1.894, -0.099), (-1.87, -0.449), (-1.81, -0.44), (-1.73, -0.133), (-1.756, -0.051),
    (-1.705, -0.03), (-1.692, -0.016), (-1.64, -0.019), (-1.64, -0.063), (-1.597, 0.003), (-1.56, 0.013),
    (-1.546, 0.024), (-1.56, -0.067), (-1.537, -0.053), (-1.54, -0.085), (-1.478, 0.013), (-1.465, -0.002),
    (-1.508, 0.0), (-1.418, 0.009), (-1.446, 0.085), (-1.414, 0.069), (-1.44, -0.042), (-1.43, -0.03),
    (-1.433, -0.051), (-1.38, -0.045), (-1.446, -0.11), (-1.44, -0.118), (-1.365, -0.107), (-1.37, -0.122),
    (-1.355, -0.159), (-1.352, -0.218), (-1.285, -0.161), (-1.289, -0.349), (-1.267, -0.212), (-1.333, -0.082),
    (-1.32, -0.05), (-1.30, -0.048), (-1.267, -0.042), (-1.257, -0.085), (-1.206, -0.133), (-1.185, -0.07),
    (-1.21, -0.042), (-1.363, 0.026), (-1.336, 0.193), (-1.323, 0.142), (-1.29, 0.111), (-1.314, 0.072),
    (-1.257, 0.089), (-1.267, 0.142), (-1.242, 0.205), (-1.23, 0.182), (-1.21, 0.14), (-1.18, 0.123),
    (-1.15, 0.219), (-1.144, 0.18), (-1.12, 0.117), (-1.087, 0.191), (-1.097, 0.162), (-1.106, 0.14),
    (-1.03, 0.214), (-0.977, 0.267), (-0.96, 0.182), (-0.86, 0.227), (-0.90, 0.165), (-0.82, 0.197),
    (-0.747, 0.191), (-0.70, 0.18), (-0.573, 0.219), (-0.543, 0.202), (-0.35, 0.21), (-0.30, 0.219),
    (-0.20, 0.16), (-0.113, 0.137), (-0.04, 0.12), (-0.02, 0.109), (0.038, 0.123), (0.081, 0.077),
    (0.0, 0.072), (0.004, 0.023), (-0.18, -0.048), (-0.208, -0.027), (-0.12, -0.02), (-0.16, -0.02),
    (-0.08, -0.01), (-0.463, -0.091), (-0.524, -0.084), (-0.469, -0.059), (-0.68, -0.099), (-0.68, -0.11),
    (-0.662, -0.085), (-0.737, -0.099), (-0.745, -0.105), (-0.73, -0.084), (-0.819, -0.093), (-0.84, -0.07),
    (-0.879, -0.195), (-0.92, -0.241), (-0.964, -0.099), (-1.008, -0.088), (-1.087, -0.116), (-1.07, -0.13),
    (-1.106, -0.059), (-1.05, -0.059), (-0.955, -0.048),
    (-0.82, 0.175), (-0.68, 0.18), (-0.58, 0.185), (-0.47, 0.178), (-0.40, 0.182), (-0.30, 0.17),
    (-0.22, 0.16), (-0.15, 0.14), (-0.10, 0.125), (-0.04, 0.10), (-0.01, 0.08), (0.01, 0.05),
    (0.02, 0.03), (-0.02, 0.01), (-0.05, -0.01), (-0.10, -0.03), (-0.20, -0.05), (-0.33, -0.06),
    (-0.45, -0.058), (-0.60, -0.06), (-0.75, -0.062), (-0.88, -0.06), (-1.00, -0.045), (-1.10, -0.04),
    (-1.20, -0.02), (-1.26, 0.01), (-1.25, 0.05), (-1.19, 0.08), (-1.13, 0.10), (-1.06, 0.125),
    (-0.98, 0.145), (-0.93, 0.16),
]
iii_core = [
    (-0.95, -0.038), (-0.90, -0.045), (-0.85, -0.036), (-0.80, -0.043), (-0.75, -0.040), (-0.70, -0.046),
    (-0.65, -0.037), (-0.60, -0.044), (-0.55, -0.039), (-0.50, -0.045), (-0.45, -0.036), (-0.40, -0.042),
    (-0.35, -0.038), (-0.30, -0.044), (-0.25, -0.037),
    (-1.15, -0.016), (-1.11, -0.023), (-1.07, -0.018), (-1.03, -0.025), (-0.99, -0.017), (-0.95, -0.022),
    (-0.91, -0.015), (-0.87, -0.024), (-0.83, -0.019), (-0.79, -0.021), (-0.75, -0.016), (-0.71, -0.025),
    (-0.67, -0.018), (-0.63, -0.022), (-0.59, -0.015), (-0.55, -0.024), (-0.51, -0.017), (-0.47, -0.023),
    (-0.43, -0.019), (-0.39, -0.025), (-0.35, -0.016), (-0.31, -0.021), (-0.27, -0.018), (-0.23, -0.024),
    (-0.19, -0.017), (-0.15, -0.022),
    (-1.21, 0.003), (-1.17, -0.004), (-1.13, 0.005), (-1.09, -0.002), (-1.05, 0.004), (-1.01, -0.005),
    (-0.97, 0.002), (-0.93, -0.003), (-0.89, 0.006), (-0.85, -0.004), (-0.81, 0.003), (-0.77, -0.002),
    (-0.73, 0.005), (-0.69, -0.005), (-0.65, 0.002), (-0.61, -0.003), (-0.57, 0.004), (-0.53, -0.004),
    (-0.49, 0.006), (-0.45, -0.002), (-0.41, 0.003), (-0.37, -0.005), (-0.33, 0.004), (-0.29, -0.003),
    (-0.25, 0.005), (-0.21, -0.002), (-0.17, 0.003), (-0.13, -0.004), (-0.09, 0.002),
    (-1.23, 0.022), (-1.19, 0.017), (-1.15, 0.024), (-1.11, 0.018), (-1.07, 0.023), (-1.03, 0.016),
    (-0.99, 0.021), (-0.95, 0.019), (-0.91, 0.025), (-0.87, 0.017), (-0.83, 0.022), (-0.79, 0.018),
    (-0.75, 0.024), (-0.71, 0.016), (-0.67, 0.021), (-0.63, 0.019), (-0.59, 0.023), (-0.55, 0.017),
    (-0.51, 0.022), (-0.47, 0.018), (-0.43, 0.025), (-0.39, 0.016), (-0.35, 0.021), (-0.31, 0.019),
    (-0.27, 0.024), (-0.23, 0.017), (-0.19, 0.022), (-0.15, 0.018), (-0.11, 0.023), (-0.07, 0.019),
    (-1.21, 0.042), (-1.17, 0.037), (-1.13, 0.044), (-1.09, 0.038), (-1.05, 0.043), (-1.01, 0.036),
    (-0.97, 0.041), (-0.93, 0.039), (-0.89, 0.045), (-0.85, 0.037), (-0.81, 0.042), (-0.77, 0.038),
    (-0.73, 0.044), (-0.69, 0.036), (-0.65, 0.041), (-0.61, 0.039), (-0.57, 0.043), (-0.53, 0.037),
    (-0.49, 0.042), (-0.45, 0.038), (-0.41, 0.045), (-0.37, 0.036), (-0.33, 0.041), (-0.29, 0.039),
    (-0.25, 0.044), (-0.21, 0.037), (-0.17, 0.042), (-0.13, 0.038), (-0.09, 0.043), (-0.05, 0.039),
    (-1.15, 0.062), (-1.11, 0.057), (-1.07, 0.064), (-1.03, 0.058), (-0.99, 0.063), (-0.95, 0.056),
    (-0.91, 0.061), (-0.87, 0.059), (-0.83, 0.065), (-0.79, 0.057), (-0.75, 0.062), (-0.71, 0.058),
    (-0.67, 0.064), (-0.63, 0.056), (-0.59, 0.061), (-0.55, 0.059), (-0.51, 0.063), (-0.47, 0.057),
    (-0.43, 0.062), (-0.39, 0.058), (-0.35, 0.065), (-0.31, 0.056), (-0.27, 0.061), (-0.23, 0.059),
    (-0.19, 0.064), (-0.15, 0.057), (-0.11, 0.062), (-0.07, 0.058), (-0.03, 0.063),
    (-1.09, 0.082), (-1.05, 0.077), (-1.01, 0.084), (-0.97, 0.078), (-0.93, 0.083), (-0.89, 0.076),
    (-0.85, 0.081), (-0.81, 0.079), (-0.77, 0.085), (-0.73, 0.077), (-0.69, 0.082), (-0.65, 0.078),
    (-0.61, 0.084), (-0.57, 0.076), (-0.53, 0.081), (-0.49, 0.079), (-0.45, 0.083), (-0.41, 0.077),
    (-0.37, 0.082), (-0.33, 0.078), (-0.29, 0.085), (-0.25, 0.076), (-0.21, 0.081), (-0.17, 0.079),
    (-0.13, 0.084), (-0.09, 0.077), (-0.05, 0.082),
    (-1.03, 0.102), (-0.99, 0.097), (-0.95, 0.104), (-0.91, 0.098), (-0.87, 0.103), (-0.83, 0.096),
    (-0.79, 0.101), (-0.75, 0.099), (-0.71, 0.105), (-0.67, 0.097), (-0.63, 0.102), (-0.59, 0.098),
    (-0.55, 0.104), (-0.51, 0.096), (-0.47, 0.101), (-0.43, 0.099), (-0.39, 0.103), (-0.35, 0.097),
    (-0.31, 0.102), (-0.27, 0.098), (-0.23, 0.105), (-0.19, 0.096), (-0.15, 0.101), (-0.11, 0.099),
    (-0.07, 0.103),
    (-0.97, 0.122), (-0.93, 0.117), (-0.89, 0.124), (-0.85, 0.118), (-0.81, 0.123), (-0.77, 0.116),
    (-0.73, 0.121), (-0.69, 0.119), (-0.65, 0.125), (-0.61, 0.117), (-0.57, 0.122), (-0.53, 0.118),
    (-0.49, 0.124), (-0.45, 0.116), (-0.41, 0.121), (-0.37, 0.119), (-0.33, 0.123), (-0.29, 0.117),
    (-0.25, 0.122), (-0.21, 0.118), (-0.17, 0.125), (-0.13, 0.116),
    (-0.91, 0.142), (-0.87, 0.137), (-0.83, 0.144), (-0.79, 0.138), (-0.75, 0.143), (-0.71, 0.136),
    (-0.67, 0.141), (-0.63, 0.139), (-0.59, 0.145), (-0.55, 0.137), (-0.51, 0.142), (-0.47, 0.138),
    (-0.43, 0.144), (-0.39, 0.136), (-0.35, 0.141), (-0.31, 0.139), (-0.27, 0.143), (-0.23, 0.137),
    (-0.19, 0.142),
    (-0.75, 0.158), (-0.70, 0.163), (-0.65, 0.157), (-0.60, 0.165), (-0.55, 0.159), (-0.50, 0.162),
    (-0.45, 0.156), (-0.40, 0.161), (-0.35, 0.158),
]

e_arr = np.array(e_out + e_core)
d_arr = np.array(d_out + d_core)
o_arr = np.array(o_out + o_core)
s1 = np.vstack([e_arr, d_arr, o_arr])        # full Sample I
s3 = np.array(iii_out + iii_core)            # Sample III

FS = 15.5
fig = plt.figure(figsize=(13.34, 13.89), dpi=100)

ax_a = fig.add_axes([0.0997, 0.7523, 0.4003, 0.2109])
ax_b = fig.add_axes([0.5495, 0.7523, 0.4003, 0.2109])
ax_c = fig.add_axes([0.2001, 0.3405, 0.5997, 0.3168])
cax = fig.add_axes([0.8298, 0.3405, 0.0255, 0.3168])
ax_d = fig.add_axes([0.0997, 0.0554, 0.4003, 0.2109])
ax_e = fig.add_axes([0.5495, 0.0554, 0.4003, 0.2109])

fmt1 = FuncFormatter(lambda v, p: "0.0" if abs(v) < 1e-9 else f"{v:.1f}")


def style(ax, letter, title, ylab=True):
    ax.set_xlim(-2.2, 0.3)
    ax.set_ylim(-0.6, 0.4)
    ax.xaxis.set_major_locator(MultipleLocator(0.5))
    ax.yaxis.set_major_locator(MultipleLocator(0.2))
    ax.xaxis.set_major_formatter(fmt1)
    ax.yaxis.set_major_formatter(fmt1)
    ax.grid(True, color='#b0b0b0', lw=1.2)
    ax.tick_params(direction='in', top=True, right=True, length=6, width=1,
                   labelsize=FS, pad=7, labelleft=ylab)
    for sp in ax.spines.values():
        sp.set_linewidth(1.2)
    ax.set_title(title, fontsize=FS, pad=7)
    ax.set_xlabel('[Fe/H]', fontsize=FS)
    if ylab:
        ax.set_ylabel('[Ni/Fe]', fontsize=FS)
    ax.text(0.022, 0.928, letter, transform=ax.transAxes, fontsize=FS, va='center')


ms = 52
ax_a.scatter(s1[:, 0], s1[:, 1], s=ms, c='black', linewidths=0)
style(ax_a, 'a)', 'Sample I')

ax_b.scatter(s3[:, 0], s3[:, 1], s=ms, c='black', linewidths=0)
style(ax_b, 'b)', 'Sample III', ylab=False)

sc = ax_c.scatter(s1[:, 0], s1[:, 1], s=95, c=s1[:, 2], cmap='plasma',
                  vmin=-1, vmax=1, linewidths=0)
style(ax_c, 'c)', 'Sample I')

ax_d.scatter(d_arr[:, 0], d_arr[:, 1], s=ms, c='black', linewidths=0)
style(ax_d, 'd)', 'Sample Ia |L$_z$/J$_{tot}$| < 0.25')

ax_e.scatter(e_arr[:, 0], e_arr[:, 1], s=ms, c='black', linewidths=0)
style(ax_e, 'e)', 'Sample Ib L$_z$/J$_{tot}$ > 0.6', ylab=False)

cb = fig.colorbar(sc, cax=cax, ticks=np.linspace(-1, 1, 9))
cb.ax.yaxis.set_major_formatter(FuncFormatter(lambda v, p: f"{v:.2f}".replace('-', '\u2212')))
cb.ax.tick_params(labelsize=13, length=5)
cb.set_label('L$_z$/J$_{tot}$', fontsize=13, labelpad=8)

fig.savefig('out.png', dpi=100)
